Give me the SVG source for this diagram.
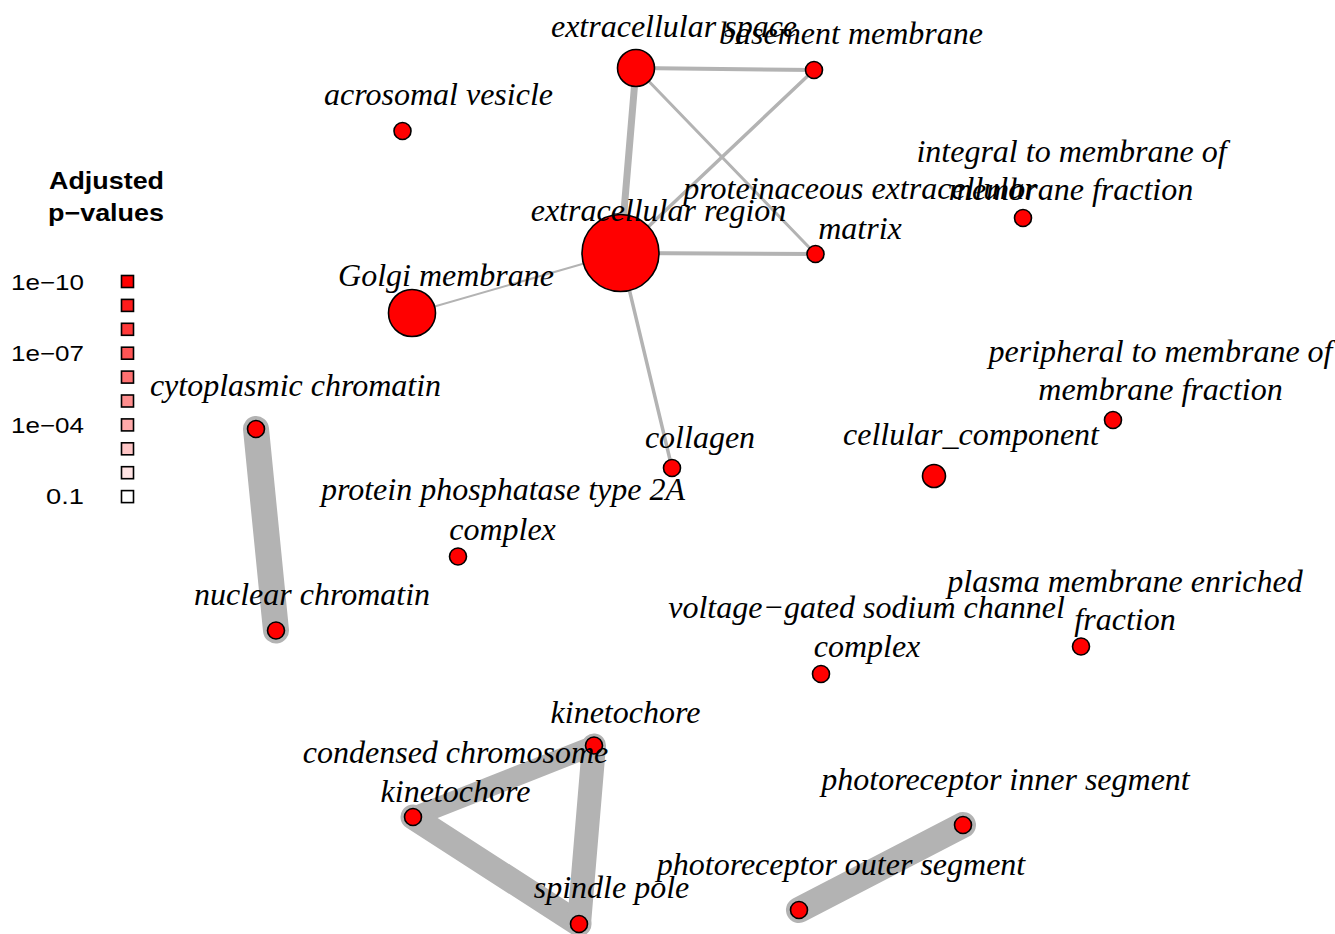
<svg xmlns="http://www.w3.org/2000/svg" width="1335" height="934" viewBox="0 0 1335 934">
<style>
.e{stroke:#B3B3B3;stroke-linecap:round;fill:none}
.n{fill:#FF0000;stroke:#000;stroke-width:1.6}
.l{font-family:"Liberation Serif","Times New Roman",serif;font-style:italic;font-size:32px;fill:#000;text-anchor:middle}
.lt{font-family:"Liberation Sans",Arial,sans-serif;font-weight:bold;font-size:23px;fill:#000;text-anchor:middle}
.lv{font-family:"Liberation Sans",Arial,sans-serif;font-size:22px;fill:#000;text-anchor:end}
.sq{stroke:#000;stroke-width:1.6}
</style>
<rect width="1335" height="934" fill="#fff"/>
<g id="legend">
<text class="lt" x="106.5" y="189" textLength="115" lengthAdjust="spacingAndGlyphs">Adjusted</text>
<text class="lt" x="106" y="221" textLength="116" lengthAdjust="spacingAndGlyphs">p−values</text>
<text class="lv" x="84" y="290" textLength="73" lengthAdjust="spacingAndGlyphs">1e−10</text>
<text class="lv" x="84" y="361" textLength="73" lengthAdjust="spacingAndGlyphs">1e−07</text>
<text class="lv" x="84" y="433" textLength="73" lengthAdjust="spacingAndGlyphs">1e−04</text>
<text class="lv" x="84" y="504" textLength="38" lengthAdjust="spacingAndGlyphs">0.1</text>
<rect class="sq" x="121.5" y="275.5" width="12" height="12" fill="#FF0000"/>
<rect class="sq" x="121.5" y="299.4" width="12" height="12" fill="#FF1C1C"/>
<rect class="sq" x="121.5" y="323.3" width="12" height="12" fill="#FF3939"/>
<rect class="sq" x="121.5" y="347.2" width="12" height="12" fill="#FF5555"/>
<rect class="sq" x="121.5" y="371.1" width="12" height="12" fill="#FF7171"/>
<rect class="sq" x="121.5" y="395" width="12" height="12" fill="#FF8E8E"/>
<rect class="sq" x="121.5" y="418.9" width="12" height="12" fill="#FFAAAA"/>
<rect class="sq" x="121.5" y="442.8" width="12" height="12" fill="#FFC6C6"/>
<rect class="sq" x="121.5" y="466.7" width="12" height="12" fill="#FFE3E3"/>
<rect class="sq" x="121.5" y="490.6" width="12" height="12" fill="#FFFFFF"/>
</g>
<g id="connectors">
<line class="e" x1="636" y1="68" x2="620.5" y2="253" stroke-width="7"/>
<line class="e" x1="636" y1="68" x2="814" y2="70" stroke-width="4"/>
<line class="e" x1="636" y1="68" x2="815.5" y2="254" stroke-width="3"/>
<line class="e" x1="814" y1="70" x2="620.5" y2="253" stroke-width="3.5"/>
<line class="e" x1="620.5" y1="253" x2="815.5" y2="254" stroke-width="4"/>
<line class="e" x1="412" y1="313" x2="620.5" y2="253" stroke-width="2"/>
<line class="e" x1="620.5" y1="253" x2="672" y2="468" stroke-width="3.5"/>
<line class="e" x1="256" y1="429" x2="276" y2="630.5" stroke-width="26"/>
<line class="e" x1="594" y1="745.5" x2="413" y2="817" stroke-width="20"/>
<line class="e" x1="413" y1="817" x2="579" y2="924" stroke-width="25"/>
<line class="e" x1="594" y1="745.5" x2="579" y2="924" stroke-width="24"/>
<line class="e" x1="963" y1="825" x2="799" y2="910" stroke-width="26"/>
</g>
<g id="n-extracellular-space"><circle class="n" cx="636" cy="68" r="18.5"/></g>
<g id="n-basement-membrane"><circle class="n" cx="814" cy="70" r="8.5"/></g>
<g id="n-extracellular-region"><circle class="n" cx="620.5" cy="253" r="38.5"/></g>
<g id="n-proteinaceous-extracellular-matrix"><circle class="n" cx="815.5" cy="254" r="8.5"/></g>
<g id="n-golgi-membrane"><circle class="n" cx="412" cy="313" r="23.5"/></g>
<g id="n-acrosomal-vesicle"><circle class="n" cx="402.5" cy="131" r="8.5"/></g>
<g id="n-integral-to-membrane"><circle class="n" cx="1023" cy="218" r="8.5"/></g>
<g id="n-peripheral-to-membrane"><circle class="n" cx="1113" cy="420" r="8.5"/></g>
<g id="n-cellular-component"><circle class="n" cx="934" cy="476" r="11.5"/></g>
<g id="n-collagen"><circle class="n" cx="672" cy="468" r="8.5"/></g>
<g id="n-pp2a"><circle class="n" cx="458" cy="556.5" r="8.5"/></g>
<g id="n-cytoplasmic-chromatin"><circle class="n" cx="256" cy="429" r="8.5"/></g>
<g id="n-nuclear-chromatin"><circle class="n" cx="276" cy="630.5" r="8.5"/></g>
<g id="n-vgsc"><circle class="n" cx="821" cy="674" r="8.5"/></g>
<g id="n-plasma-membrane-enriched"><circle class="n" cx="1081" cy="646.5" r="8.5"/></g>
<g id="n-kinetochore"><circle class="n" cx="594" cy="745.5" r="8.5"/></g>
<g id="n-condensed-chromosome-kinetochore"><circle class="n" cx="413" cy="817" r="8.5"/></g>
<g id="n-spindle-pole"><circle class="n" cx="579" cy="924" r="8.5"/></g>
<g id="n-photoreceptor-inner"><circle class="n" cx="963" cy="825" r="8.5"/></g>
<g id="n-photoreceptor-outer"><circle class="n" cx="799" cy="910" r="8.5"/></g>
<g id="labels">
<text class="l" x="674" y="37">extracellular space</text>
<text class="l" x="851" y="44">basement membrane</text>
<text class="l" x="438.5" y="105">acrosomal vesicle</text>
<text class="l" x="1071.5" y="162">integral to membrane of</text>
<text class="l" x="1071" y="200">membrane fraction</text>
<text class="l" x="860" y="199">proteinaceous extracellular</text>
<text class="l" x="860" y="239">matrix</text>
<text class="l" x="658.5" y="221">extracellular region</text>
<text class="l" x="446" y="286">Golgi membrane</text>
<text class="l" x="1160.5" y="362">peripheral to membrane of</text>
<text class="l" x="1160.5" y="400">membrane fraction</text>
<text class="l" x="295.5" y="396">cytoplasmic chromatin</text>
<text class="l" x="700" y="448">collagen</text>
<text class="l" x="971" y="445">cellular_component</text>
<text class="l" x="503" y="500">protein phosphatase type 2A</text>
<text class="l" x="502.5" y="540">complex</text>
<text class="l" x="312" y="605">nuclear chromatin</text>
<text class="l" x="866.5" y="618">voltage−gated sodium channel</text>
<text class="l" x="867" y="657">complex</text>
<text class="l" x="1125" y="592">plasma membrane enriched</text>
<text class="l" x="1125" y="630">fraction</text>
<text class="l" x="625.5" y="723">kinetochore</text>
<text class="l" x="455.5" y="763">condensed chromosome</text>
<text class="l" x="455.5" y="802">kinetochore</text>
<text class="l" x="1005.5" y="790">photoreceptor inner segment</text>
<text class="l" x="841" y="875">photoreceptor outer segment</text>
<text class="l" x="611.5" y="898">spindle pole</text>
</g>
</svg>
